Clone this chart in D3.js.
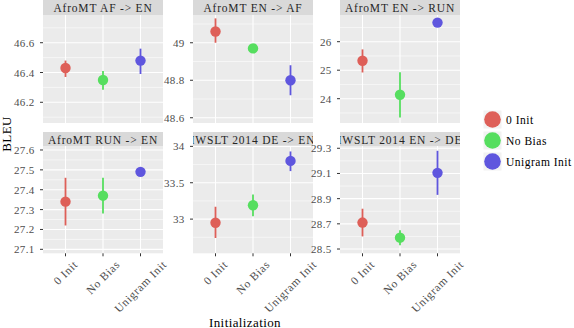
<!doctype html>
<html>
<head>
<meta charset="utf-8"/>
<script src="https://cdnjs.cloudflare.com/ajax/libs/d3/7.8.5/d3.min.js"></script>
<style>
  body { margin: 0; background: #fff; }
  svg { display: block; }
  svg text { font-family: "Liberation Serif", "DejaVu Serif", "Times New Roman", Times, serif; }
  .strip { fill: #D9D9D9; }
  .strip-text { fill: #262626; font-size: 11.5px; letter-spacing: 0.8px; }
  .panel { fill: #EBEBEB; }
  .major { stroke: #fff; stroke-width: 1.1px; }
  .minor { stroke: #fff; stroke-width: 0.55px; }
  .tick { stroke: #333; stroke-width: 1px; }
  .tick-label { fill: #4D4D4D; font-size: 11px; letter-spacing: 0.3px; }
  .x-label { fill: #4D4D4D; font-size: 11.5px; letter-spacing: 0.7px; }
  .title { fill: #000; font-size: 13px; letter-spacing: 0.4px; }
  .legend-text { fill: #000; font-size: 11.5px; letter-spacing: 0.5px; }
</style>
</head>
<body>
<svg width="574" height="328"></svg>
<script>
var groups = ["0 Init", "No Bias", "Unigram Init"];
var colors = ["#DE5F58", "#56DE5F", "#5F56DE"];
var panels = ["AfroMT AF -> EN", "AfroMT EN -> AF", "AfroMT EN -> RUN",
              "AfroMT RUN -> EN", "IWSLT 2014 DE -> EN", "IWSLT 2014 EN -> DE"];

// mean BLEU and interval per panel, in group order
var bleu  = [[46.43, 46.35, 46.48], [49.06, 48.97, 48.80], [25.33, 24.14, 26.67],
             [27.34, 27.37, 27.49], [32.95, 33.19, 33.80], [28.71, 28.59, 29.105]];
var lower = [[46.37, 46.285, 46.39], [49.00, 48.97, 48.72], [24.92, 23.34, 26.67],
             [27.22, 27.28, 27.49], [32.74, 33.04, 33.66], [28.60, 28.53, 28.93]];
var upper = [[46.48, 46.41, 46.56], [49.13, 48.97, 48.88], [25.73, 24.93, 26.67],
             [27.46, 27.46, 27.49], [33.17, 33.34, 33.93], [28.82, 28.65, 29.28]];

var yDomains = [[46.061, 46.786], [48.572, 49.148], [23.147, 26.937],
                [27.08, 27.62], [32.53, 34.005], [28.466, 29.318]];
var yTicks = [[46.2, 46.4, 46.6], [48.6, 48.8, 49], [24, 25, 26],
              [27.1, 27.2, 27.3, 27.4, 27.5, 27.6], [33, 33.5, 34],
              [28.5, 28.7, 28.9, 29.1, 29.3]];

var svg = d3.select("svg");
var colX = [43, 193, 340], panelW = 120;
var rows = [{stripTop: 0, top: 15, bottom: 123}, {stripTop: 132, top: 146, bottom: 253.3}];

var defs = svg.append("defs");

panels.forEach(function(name, i){
  var c = i % 3, r = Math.floor(i / 3);
  var x0 = colX[c], row = rows[r];
  var x = d3.scalePoint().domain(groups).range([x0, x0 + panelW]).padding(0.6);
  var y = d3.scaleLinear().domain(yDomains[i]).range([row.bottom, row.top]);
  var g = svg.append("g");

  // strip
  defs.append("clipPath").attr("id", "clip" + i)
    .append("rect").attr("x", x0).attr("y", row.stripTop)
    .attr("width", panelW).attr("height", row.top - row.stripTop);
  g.append("rect").attr("class", "strip")
    .attr("x", x0).attr("y", row.stripTop)
    .attr("width", panelW).attr("height", row.top - row.stripTop);
  g.append("text").attr("class", "strip-text")
    .attr("clip-path", "url(#clip" + i + ")")
    .attr("x", x0 + panelW / 2).attr("y", (row.stripTop + row.top) / 2 + 0.5)
    .attr("text-anchor", "middle").attr("dominant-baseline", "central")
    .text(name);

  // panel background + grid
  g.append("rect").attr("class", "panel")
    .attr("x", x0).attr("y", row.top)
    .attr("width", panelW).attr("height", row.bottom - row.top);

  var t = yTicks[i], step = t[1] - t[0];
  var minors = [];
  for (var v = t[0] - step / 2; v <= yDomains[i][1]; v += step) {
    if (v >= yDomains[i][0]) minors.push(v);
  }
  g.selectAll(".minor").data(minors).enter().append("line")
    .attr("class", "minor")
    .attr("x1", x0).attr("x2", x0 + panelW)
    .attr("y1", d => y(d)).attr("y2", d => y(d));
  g.selectAll(".major-y").data(t).enter().append("line")
    .attr("class", "major")
    .attr("x1", x0).attr("x2", x0 + panelW)
    .attr("y1", d => y(d)).attr("y2", d => y(d));
  g.selectAll(".major-x").data(groups).enter().append("line")
    .attr("class", "major")
    .attr("x1", d => x(d)).attr("x2", d => x(d))
    .attr("y1", row.top).attr("y2", row.bottom);

  // y axis
  g.selectAll(".ytick").data(t).enter().append("line")
    .attr("class", "tick")
    .attr("x1", x0 - 3).attr("x2", x0)
    .attr("y1", d => y(d)).attr("y2", d => y(d));
  g.selectAll(".ylab").data(t).enter().append("text")
    .attr("class", "tick-label")
    .attr("x", x0 - 8.5).attr("y", d => y(d))
    .attr("text-anchor", "end").attr("dominant-baseline", "central")
    .text(d => d3.format("~g")(d));

  // error bars and points
  groups.forEach(function(gr, j){
    g.append("line")
      .attr("x1", x(gr)).attr("x2", x(gr))
      .attr("y1", y(lower[i][j])).attr("y2", y(upper[i][j]))
      .attr("stroke", colors[j]).attr("stroke-width", 1.8);
    g.append("circle")
      .attr("cx", x(gr)).attr("cy", y(bleu[i][j])).attr("r", 5.2)
      .attr("fill", colors[j]);
  });

  // x axis only for bottom row
  if (r === 1) {
    g.selectAll(".xtick").data(groups).enter().append("line")
      .attr("class", "tick")
      .attr("x1", d => x(d)).attr("x2", d => x(d))
      .attr("y1", row.bottom).attr("y2", row.bottom + 3);
    groups.forEach(function(gr){
      var lab = g.append("text").attr("class", "x-label")
        .attr("text-anchor", "middle").attr("dominant-baseline", "central")
        .text(gr);
      var w = lab.node().getComputedTextLength();
      var cy = 259.5 + (w / 2 + 4) * Math.SQRT1_2;
      lab.attr("transform", "translate(" + x(gr) + "," + cy + ") rotate(-45)");
    });
  }
});

// axis titles
svg.append("text").attr("class", "title")
  .attr("x", 245).attr("y", 326.5).attr("text-anchor", "middle")
  .text("Initialization");
svg.append("text").attr("class", "title")
  .attr("transform", "translate(10.5,134) rotate(-90)")
  .attr("text-anchor", "middle")
  .text("BLEU");

// legend
var leg = svg.append("g").attr("transform", "translate(483.5,110.5)");
groups.forEach(function(gr, j){
  var k = leg.append("g").attr("transform", "translate(0," + j * 21 + ")");
  k.append("rect").attr("width", 18).attr("height", 18).attr("fill", "#F2F2F2");
  k.append("circle").attr("cx", 9).attr("cy", 9).attr("r", 8.3).attr("fill", colors[j]);
  k.append("text").attr("class", "legend-text")
    .attr("x", 22.5).attr("y", 9.5).attr("dominant-baseline", "central")
    .text(gr);
});
</script>
</body>
</html>
